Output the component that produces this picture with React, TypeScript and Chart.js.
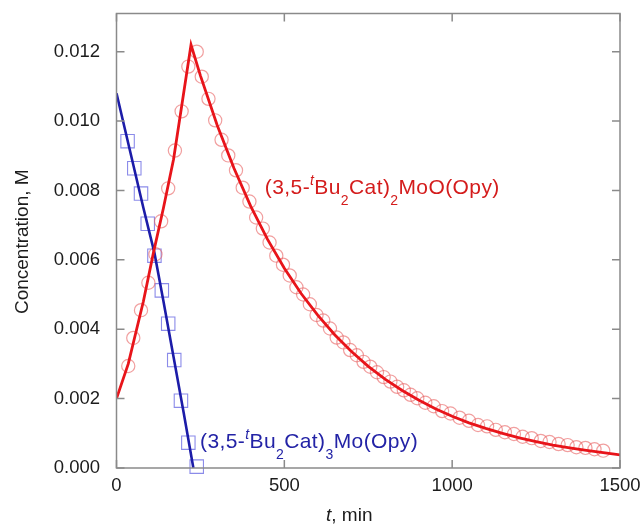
import React, { useEffect, useRef } from 'react';
import { Chart, registerables } from 'chart.js';

Chart.register(...registerables);

// ---------- data ----------
const xTickValues = [0, 500, 1000, 1500];
const xTickLabels = ['0', '500', '1000', '1500'];
const yTickValues = [0, 0.002, 0.004, 0.006, 0.008, 0.01, 0.012];
const yTickLabels = ['0.000', '0.002', '0.004', '0.006', '0.008', '0.010', '0.012'];

// (3,5-tBu2Cat)2MoO(Opy) observed (circles)
const redObsT = [35, 50, 73, 95, 116, 133, 154, 174, 194, 214, 239, 254, 274, 294, 313, 333, 356, 376, 396, 416, 436, 456, 476, 496, 516, 536, 556, 576, 596, 616, 636, 656, 676, 696, 716, 736, 756, 776, 796, 816, 836, 856, 876, 896, 920, 945, 970, 995, 1022, 1050, 1077, 1104, 1130, 1157, 1184, 1210, 1237, 1264, 1290, 1317, 1344, 1370, 1397, 1424, 1450];
const redObsC = [0.00294, 0.00375, 0.00455, 0.00534, 0.00616, 0.00711, 0.00806, 0.00915, 0.01028, 0.01157, 0.0120, 0.01128, 0.01064, 0.01002, 0.00946, 0.00901, 0.00858, 0.00808, 0.00768, 0.00722, 0.00690, 0.00650, 0.00612, 0.00586, 0.00555, 0.00521, 0.00500, 0.00472, 0.00441, 0.00425, 0.00402, 0.00376, 0.00362, 0.00340, 0.00325, 0.00306, 0.00292, 0.00276, 0.00262, 0.00249, 0.00234, 0.00224, 0.00211, 0.00201, 0.00188, 0.00178, 0.00164, 0.00157, 0.00145, 0.00136, 0.00124, 0.00120, 0.00110, 0.00103, 0.00098, 0.00090, 0.00086, 0.00078, 0.00075, 0.00069, 0.00066, 0.00060, 0.00058, 0.00054, 0.00050];

// (3,5-tBu2Cat)3Mo(Opy) observed (squares)
const blueObsT = [33, 53, 73, 93, 113, 135, 154, 172, 192, 214, 239];
const blueObsC = [0.00942, 0.00864, 0.00791, 0.00704, 0.00612, 0.00512, 0.00416, 0.00311, 0.00194, 0.00073, 0.00004];

// fitted curves
const redFitT = [0, 35, 80, 110, 140, 170, 200, 222, 250, 300, 350, 400, 450, 500, 550, 600, 650, 700, 750, 800, 850, 900, 950, 1000, 1050, 1100, 1150, 1200, 1250, 1300, 1350, 1400, 1450, 1500];
const redFitC = [0.0020, 0.0030, 0.0048, 0.0062, 0.0075, 0.0089, 0.0108, 0.0122, 0.01131, 0.00988, 0.00864, 0.00754, 0.00659, 0.00576, 0.00503, 0.00440, 0.00384, 0.00336, 0.00293, 0.00256, 0.00224, 0.00196, 0.00171, 0.00149, 0.00130, 0.00114, 0.00100, 0.00087, 0.00076, 0.00066, 0.00058, 0.00051, 0.00044, 0.00038];
const blueFitT = [0, 40, 80, 113, 140, 170, 200, 229];
const blueFitC = [0.0108, 0.00915, 0.0075, 0.0062, 0.0048, 0.0032, 0.0016, 0.0];

const yTitle = 'Concentration, M';
const xTitleItalic = 't';
const xTitleRest = ', min';
const redLabel: [string, string][] = [['(3,5-', 'n'], ['t', 'sup'], ['Bu', 'n'], ['2', 'sub'], ['Cat)', 'n'], ['2', 'sub'], ['MoO(Opy)', 'n']];
const blueLabel: [string, string][] = [['(3,5-', 'n'], ['t', 'sup'], ['Bu', 'n'], ['2', 'sub'], ['Cat)', 'n'], ['3', 'sub'], ['Mo(Opy)', 'n']];

// ---------- styles ----------
const FONT = '"Liberation Sans", Arial, Helvetica, sans-serif';
const RED_LINE = '#e8141a';
const RED_MARK = 'rgba(232, 95, 95, 0.6)';
const RED_TEXT = '#d41c1c';
const BLUE_LINE = '#1c1ca8';
const BLUE_MARK = 'rgba(100, 100, 225, 0.75)';
const BLUE_TEXT = '#2323a6';
const FRAME = '#8a8a8a';
const TEXT = '#1c1c1c';

const zip = (t: number[], c: number[]) => t.map((x, i) => ({ x, y: c[i] }));

function drawRich(ctx: CanvasRenderingContext2D, segs: [string, string][], x: number, y: number, color: string) {
  ctx.save();
  ctx.fillStyle = color;
  ctx.textAlign = 'left';
  ctx.textBaseline = 'alphabetic';
  try { (ctx as any).letterSpacing = '0.4px'; } catch (e) { /* ignore */ }
  let cx = x;
  for (const [text, kind] of segs) {
    let dy = 0;
    if (kind === 'sup') { ctx.font = `italic 14px ${FONT}`; dy = -9; }
    else if (kind === 'sub') { ctx.font = `14px ${FONT}`; dy = 10.5; }
    else ctx.font = `21px ${FONT}`;
    ctx.fillText(text, cx, y + dy);
    cx += ctx.measureText(text).width;
  }
  ctx.restore();
}

const framePlugin = {
  id: 'frameAndText',
  afterDatasetsDraw(chart: any) {
    const { ctx, chartArea } = chart;
    const xs = chart.scales.x;
    const ys = chart.scales.y;
    const { left, right, top, bottom } = chartArea;
    ctx.save();
    ctx.strokeStyle = FRAME;
    ctx.lineWidth = 1.5;
    ctx.strokeRect(left, top, right - left, bottom - top);
    const TL = 8;
    ctx.beginPath();
    for (const v of yTickValues) {
      const py = ys.getPixelForValue(v);
      ctx.moveTo(left, py); ctx.lineTo(left + TL, py);
      ctx.moveTo(right, py); ctx.lineTo(right - TL, py);
    }
    for (const v of xTickValues) {
      const px = xs.getPixelForValue(v);
      ctx.moveTo(px, bottom); ctx.lineTo(px, bottom - TL);
      ctx.moveTo(px, top); ctx.lineTo(px, top + TL);
    }
    ctx.stroke();
    ctx.restore();

    // annotations anchored in data coordinates
    drawRich(ctx, redLabel, xs.getPixelForValue(442), ys.getPixelForValue(0.00789), RED_TEXT);
    drawRich(ctx, blueLabel, xs.getPixelForValue(249), ys.getPixelForValue(0.00057), BLUE_TEXT);

    // axis titles
    ctx.save();
    ctx.fillStyle = TEXT;
    ctx.textBaseline = 'alphabetic';
    ctx.font = `italic 19px ${FONT}`;
    const w1 = ctx.measureText(xTitleItalic).width;
    ctx.font = `19px ${FONT}`;
    const w2 = ctx.measureText(xTitleRest).width;
    const cx = (left + right) / 2 - 19;
    const sx = cx - (w1 + w2) / 2;
    ctx.textAlign = 'left';
    ctx.font = `italic 19px ${FONT}`;
    ctx.fillText(xTitleItalic, sx, 521);
    ctx.font = `19px ${FONT}`;
    ctx.fillText(xTitleRest, sx + w1, 521);
    ctx.restore();

    ctx.save();
    ctx.fillStyle = TEXT;
    ctx.font = `19px ${FONT}`;
    ctx.textAlign = 'center';
    ctx.textBaseline = 'alphabetic';
    ctx.translate(27.5, (top + bottom) / 2 + 1);
    ctx.rotate(-Math.PI / 2);
    ctx.fillText(yTitle, 0, 0);
    ctx.restore();
  },
};

export default function App() {
  const ref = useRef<HTMLCanvasElement | null>(null);
  useEffect(() => {
    if (!ref.current) return;
    const tickFont = { family: FONT, size: 18.5 };
    const chart = new Chart(ref.current, {
      type: 'scatter',
      data: {
        datasets: [
          {
            label: 'red fit', data: zip(redFitT, redFitC), showLine: true, borderColor: RED_LINE,
            borderWidth: 2.8, pointRadius: 0, tension: 0, backgroundColor: RED_LINE,
          },
          {
            label: 'blue fit', data: zip(blueFitT, blueFitC), showLine: true, borderColor: BLUE_LINE,
            borderWidth: 2.6, pointRadius: 0, tension: 0, backgroundColor: BLUE_LINE,
          },
          {
            label: 'red obs', data: zip(redObsT, redObsC), showLine: false, pointStyle: 'circle',
            pointRadius: 6.6, borderWidth: 1.2, borderColor: RED_MARK, backgroundColor: 'rgba(0,0,0,0)', clip: false,
          },
          {
            label: 'blue obs', data: zip(blueObsT, blueObsC), showLine: false, pointStyle: 'rect',
            pointRadius: 9.5, borderWidth: 1.1, borderColor: BLUE_MARK, backgroundColor: 'rgba(0,0,0,0)', clip: false,
          },
        ] as any,
      },
      options: {
        responsive: false,
        animation: false,
        events: [],
        layout: { padding: { left: 0, top: 13.5, right: 22, bottom: 0 } },
        plugins: { legend: { display: false }, tooltip: { enabled: false } },
        scales: {
          x: {
            type: 'linear', min: 0, max: 1500,
            grid: { display: false, drawTicks: false },
            border: { display: false },
            ticks: {
              font: tickFont, color: TEXT, padding: 7, maxRotation: 0, autoSkip: false,
              callback: (v: any) => { const i = xTickValues.indexOf(Number(v)); return i >= 0 ? xTickLabels[i] : ''; },
            },
            afterBuildTicks: (s: any) => { s.ticks = xTickValues.map((value) => ({ value })); },
            afterFit: (s: any) => { s.height = 59; s.paddingLeft = 0; s.paddingRight = 0; },
          },
          y: {
            type: 'linear', min: 0, max: 0.0131,
            grid: { display: false, drawTicks: false },
            border: { display: false },
            ticks: {
              font: tickFont, color: TEXT, padding: 16.5, autoSkip: false,
              callback: (v: any) => {
                const i = yTickValues.findIndex((t) => Math.abs(t - Number(v)) < 1e-9);
                return i >= 0 ? yTickLabels[i] : '';
              },
            },
            afterBuildTicks: (s: any) => { s.ticks = yTickValues.map((value) => ({ value })); },
            afterFit: (s: any) => { s.width = 116.5; s.paddingTop = 0; s.paddingBottom = 0; },
          },
        },
      } as any,
      plugins: [framePlugin],
    });
    return () => chart.destroy();
  }, []);
  return (
    <div style={{ position: 'fixed', left: 0, top: 0, width: 642, height: 527, background: '#fff' }}>
      <canvas ref={ref} width={642} height={527} style={{ display: 'block' }} />
    </div>
  );
}
